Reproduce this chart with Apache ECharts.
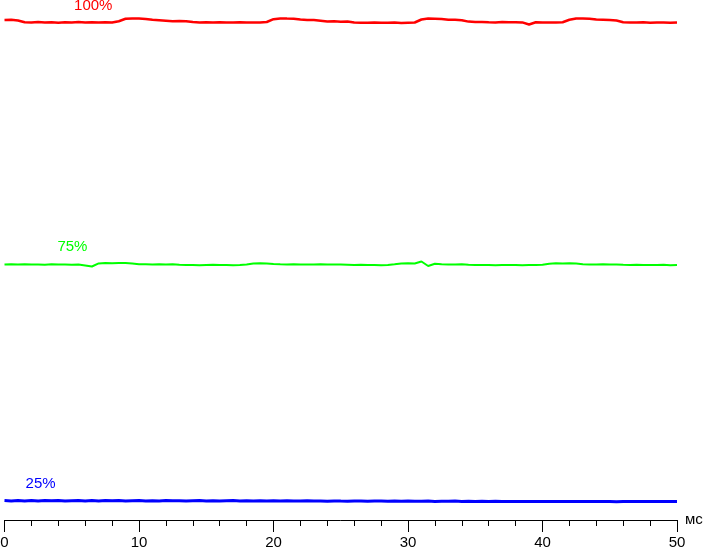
<!DOCTYPE html>
<html>
<head>
<meta charset="utf-8">
<script src="https://cdn.jsdelivr.net/npm/echarts@6/dist/echarts.min.js"></script>
<style>html,body{margin:0;padding:0;background:#fff}#c{width:703px;height:548px}</style>
</head>
<body>
<div id="c"></div>
<script>
// time axis (ms), step 0.5
var times = [];
for (var i = 0; i <= 100; i++) times.push(i * 0.5);

var tickLabels = ['0', '10', '20', '30', '40', '50'];
var seriesNames = ['100%', '75%', '25%'];

var red100 = [500,500.2,499.5,497.8,497.5,497.9,497.6,497.7,497.3,497.8,497.6,497.9,497.4,497.7,497.6,497.8,497.5,498.8,501.2,501.6,
501.4,501.0,500.3,499.8,499.3,498.8,499.1,498.7,497.9,497.6,497.8,497.4,497.7,497.6,497.5,497.7,497.4,497.6,497.5,498.0,
500.8,501.6,501.4,501.3,500.5,500.1,499.9,499.3,498.6,498.8,498.3,498.5,497.4,497.2,497.3,497.4,497.2,497.3,497.4,497.1,
497.3,497.5,500.5,501.4,501.3,500.9,500.2,500.3,499.8,498.4,497.9,498.1,497.8,497.6,497.9,497.7,497.8,497.6,495.5,497.8,
497.5,497.6,497.4,497.8,500.2,501.5,501.6,501.3,500.4,500.2,499.9,499.5,497.8,497.6,497.4,497.8,497.3,497.6,497.5,497.3,497.5];

var green75 = [255.6,255.8,255.5,255.7,255.4,255.6,255.3,255.7,255.4,255.5,255.2,255.4,254.6,253.5,256.6,257.0,256.8,257.1,256.9,256.5,
255.8,255.7,255.6,255.8,255.6,255.7,255.2,254.9,255.1,254.8,255.0,255.2,254.9,255.0,254.8,255.0,255.6,256.6,256.7,256.4,
255.9,255.7,255.6,255.8,255.5,255.6,255.4,255.7,255.5,255.4,255.6,255.3,255.0,255.2,254.9,255.0,254.8,255.1,255.8,256.6,
256.7,256.5,258.5,254.0,256.3,255.8,255.6,255.5,255.7,255.2,255.0,254.9,255.1,254.8,255.0,254.9,255.1,254.8,255.0,254.9,
255.2,256.3,256.7,256.6,256.8,256.4,255.8,255.6,255.5,255.7,255.4,255.6,255.2,255.0,255.3,254.9,255.1,254.9,255.2,254.8,255.0];

var blue25 = [19.4,19.0,19.6,19.1,19.5,19.0,19.4,19.2,19.6,19.0,19.3,19.5,19.1,19.4,19.0,19.5,19.2,19.4,19.0,19.3,
19.5,19.1,19.3,19.0,19.4,19.2,19.3,19.0,19.2,19.4,19.1,19.3,19.0,19.2,19.4,19.0,19.2,19.1,19.3,18.9,
19.2,19.0,19.3,19.0,18.9,19.2,18.9,19.0,18.8,19.1,18.9,18.8,19.0,18.9,18.8,19.0,18.9,18.7,18.9,18.8,
18.9,18.7,18.8,18.9,18.6,18.8,18.7,18.9,18.6,18.8,18.5,18.7,18.6,18.8,18.5,18.6,18.5,18.4,18.5,18.4,
18.5,18.4,18.5,18.4,18.5,18.4,18.5,18.4,18.5,18.4,18.5,18.3,18.5,18.4,18.5,18.4,18.5,18.4,18.5,18.4,18.5];

function pairs(ys) { return times.map(function (t, i) { return [t, ys[i]]; }); }

var FONT = '"Liberation Sans", Arial, sans-serif';

function mkSeries(name, ys, color, width, labelCoord) {
  return {
    type: 'line', name: name, data: pairs(ys), showSymbol: false, symbol: 'none',
    lineStyle: { color: color, width: width }, silent: true,
    markPoint: {
      symbol: 'circle', symbolSize: 0, silent: true,
      data: [{ coord: labelCoord, value: name }],
      label: { show: true, position: 'inside', formatter: name, color: color, fontSize: 15, fontFamily: FONT }
    }
  };
}

var chart = echarts.init(document.getElementById('c'), null, { renderer: 'canvas' });
chart.setOption({
  animation: false,
  backgroundColor: '#fff',
  grid: { left: 4.5, right: 26, top: 0, bottom: 28, containLabel: false, outerBoundsMode: 'none' },
  xAxis: {
    type: 'value', min: 0, max: 50, interval: 10,
    name: 'мс', nameLocation: 'end', nameGap: 8,
    nameTextStyle: { color: '#000', fontSize: 15, fontFamily: FONT, verticalAlign: 'middle', padding: [4, 0, 0, 0] },
    axisLine: { show: true, lineStyle: { color: '#000', width: 1 } },
    axisTick: { show: true, length: 12, lineStyle: { color: '#000', width: 1 } },
    minorTick: { show: true, splitNumber: 5, length: 6, lineStyle: { color: '#000', width: 1 } },
    splitLine: { show: false },
    axisLabel: { color: '#000', fontSize: 15, fontFamily: FONT, margin: 15,
      formatter: function (v) { return tickLabels[Math.round(v / 10)]; } }
  },
  yAxis: { type: 'value', min: 0, max: 520, show: false, splitLine: { show: false } },
  series: [
    mkSeries(seriesNames[0], red100, '#ff0000', 2.5, [6.6, 514]),
    mkSeries(seriesNames[1], green75, '#00ff00', 2, [5.05, 273]),
    mkSeries(seriesNames[2], blue25, '#0000ff', 3, [2.68, 36])
  ]
});
</script>
</body>
</html>
